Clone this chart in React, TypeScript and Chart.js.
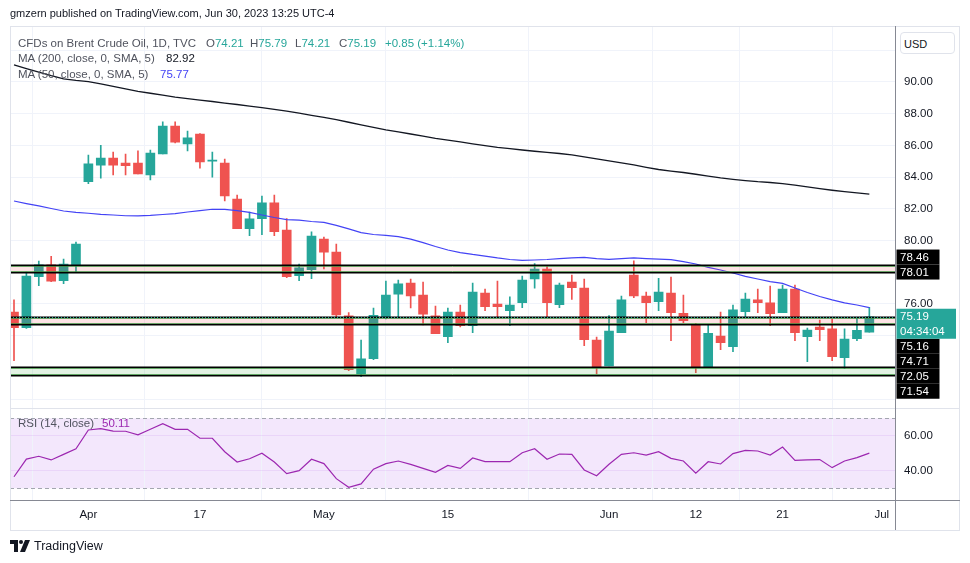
import React, { useEffect, useRef } from 'react';
import { Chart, registerables } from 'chart.js';

Chart.register(...registerables);

// ---------- data ----------
const xTickIdx = [6, 15, 25, 35, 48, 55, 62, 70];
const xTickLabels = ['Apr', '17', 'May', '15', 'Jun', '12', '21', 'Jul'];

const opens = [75.49, 74.5, 77.72, 78.46, 77.46, 78.46, 83.71, 84.76, 85.2, 84.89, 84.89, 84.13, 85.46, 87.22, 86.09, 86.72, 85.0, 84.89, 82.62, 80.74, 81.38, 82.37, 80.66, 77.78, 78.16, 80.09, 79.27, 75.25, 71.58, 72.54, 75.15, 76.62, 77.32, 76.56, 75.24, 73.93, 75.49, 74.62, 76.69, 75.99, 75.57, 76.08, 77.57, 78.2, 75.95, 77.38, 77.0, 73.72, 72.08, 74.18, 77.82, 76.5, 76.14, 76.69, 75.41, 74.71, 71.97, 73.97, 73.3, 75.51, 76.25, 76.06, 75.45, 76.94, 73.93, 74.54, 74.42, 72.6, 73.8, 74.21];
const highs = [76.25, 78.01, 78.7, 79.0, 78.83, 79.9, 85.39, 86.0, 85.58, 85.46, 85.65, 85.71, 87.48, 87.48, 86.9, 86.75, 85.58, 85.14, 82.87, 81.8, 82.81, 82.87, 81.38, 78.52, 80.54, 80.22, 79.78, 75.45, 73.72, 75.74, 77.44, 77.51, 77.57, 77.38, 75.87, 75.74, 75.93, 77.32, 76.94, 77.44, 76.44, 77.76, 78.54, 78.39, 77.32, 77.82, 77.57, 73.91, 75.26, 76.5, 78.71, 76.75, 77.62, 77.7, 76.56, 74.78, 74.67, 75.49, 75.93, 76.69, 76.94, 77.13, 77.19, 77.19, 74.48, 74.98, 75.05, 74.42, 75.13, 75.79];
const lows = [72.42, 74.45, 77.15, 77.4, 77.27, 77.97, 83.58, 83.94, 84.13, 84.13, 84.2, 83.82, 85.46, 86.15, 85.65, 84.57, 84.0, 82.49, 80.74, 80.3, 80.37, 80.3, 77.65, 77.46, 77.59, 78.2, 75.19, 71.79, 71.41, 72.48, 75.05, 75.17, 75.74, 74.67, 74.12, 73.55, 74.54, 74.18, 75.57, 75.19, 74.62, 75.76, 77.0, 75.13, 75.76, 76.28, 73.36, 71.58, 72.08, 74.18, 76.39, 74.82, 75.57, 73.68, 74.82, 71.66, 71.97, 73.11, 72.98, 75.19, 75.45, 74.62, 75.45, 73.68, 72.35, 73.68, 72.42, 71.91, 73.68, 74.21];
const closes = [74.5, 77.76, 78.46, 77.43, 78.52, 79.78, 84.83, 85.2, 84.76, 84.72, 84.2, 85.52, 87.22, 86.21, 86.47, 84.95, 85.08, 82.81, 80.74, 81.36, 82.37, 80.56, 77.72, 78.27, 80.28, 79.27, 75.3, 71.85, 72.54, 75.28, 76.56, 77.26, 76.5, 75.36, 74.12, 75.49, 74.62, 76.75, 75.82, 75.82, 75.93, 77.51, 78.2, 76.08, 77.19, 77.02, 73.74, 72.04, 74.29, 76.25, 76.5, 76.08, 76.75, 75.45, 74.94, 71.97, 74.14, 73.55, 75.62, 76.31, 76.08, 75.38, 76.94, 74.18, 74.35, 74.38, 72.67, 73.78, 74.34, 75.19];

const ma200 = [91.08, 90.85, 90.62, 90.4, 90.2, 90.1, 90.03, 89.88, 89.72, 89.56, 89.41, 89.29, 89.17, 89.05, 88.95, 88.86, 88.77, 88.67, 88.58, 88.48, 88.38, 88.27, 88.16, 88.03, 87.9, 87.77, 87.62, 87.46, 87.3, 87.14, 86.98, 86.85, 86.72, 86.58, 86.44, 86.33, 86.22, 86.1, 85.99, 85.88, 85.79, 85.71, 85.63, 85.56, 85.49, 85.4, 85.28, 85.15, 85.02, 84.9, 84.77, 84.62, 84.48, 84.38, 84.29, 84.18, 84.06, 83.95, 83.86, 83.78, 83.71, 83.66, 83.59, 83.49, 83.38, 83.27, 83.17, 83.08, 83.0, 82.92];
const ma50 = [82.49, 82.33, 82.18, 82.02, 81.86, 81.77, 81.72, 81.65, 81.61, 81.56, 81.55, 81.58, 81.64, 81.69, 81.8, 81.89, 81.97, 81.96, 81.89, 81.77, 81.61, 81.45, 81.32, 81.29, 81.2, 81.14, 80.95, 80.73, 80.5, 80.38, 80.32, 80.25, 80.09, 79.87, 79.62, 79.4, 79.24, 79.12, 79.02, 78.9, 78.8, 78.75, 78.77, 78.8, 78.86, 78.91, 78.93, 78.86, 78.81, 78.86, 78.9, 78.86, 78.83, 78.79, 78.67, 78.52, 78.3, 78.14, 77.95, 77.74, 77.57, 77.41, 77.29, 77.0, 76.72, 76.47, 76.25, 76.06, 75.93, 75.77];
const rsi = [36.6, 46.7, 48.3, 46.2, 49.4, 52.6, 63.3, 64.1, 62.7, 62.6, 60.6, 63.7, 66.9, 63.7, 63.7, 58.6, 58.6, 50.9, 45.0, 46.9, 50.0, 45.0, 38.4, 40.1, 46.6, 44.1, 35.5, 30.6, 32.5, 40.9, 44.1, 45.6, 43.7, 41.4, 39.1, 43.1, 41.4, 47.3, 45.2, 45.2, 45.2, 50.3, 52.6, 46.6, 49.6, 49.4, 40.5, 37.2, 43.7, 49.4, 50.3, 49.0, 50.9, 47.1, 45.6, 38.7, 45.2, 43.9, 49.8, 51.7, 51.3, 49.0, 53.6, 46.0, 46.2, 46.4, 41.8, 45.6, 47.5, 50.1];

const priceTicks = [70, 72, 74, 76, 78, 80, 82, 84, 86, 88, 90, 92];
const priceTicksShown = [76, 80, 82, 84, 86, 88, 90];
const rsiTicks = [40, 60];
const rsiUpper = 70;
const rsiLower = 30;

const bandHigh = [78.46, 75.16, 72.05];
const bandLow = [78.01, 74.71, 71.54];
const bandKind = ['red', 'red', 'green'];

const lastPrice = 75.19;
const countdown = '04:34:04';

// ---------- style ----------
const UP = '#26a69a';
const DOWN = '#ef5350';
const GRID = '#f0f3fa';
const FRAME = '#e0e3eb';
const AXIS = '#868993';
const TEXT = '#131722';
const LEG = '#50535e';
const FONT = '"Liberation Sans", Arial, sans-serif';
const MA50C = '#4343f5';
const RSIC = '#9c27b0';

const X_MIN = -0.3227;
const X_MAX = 71.07;
const P_MIN = 69.464;
const P_MAX = 93.533;
const R_MIN = 23.31;
const R_MAX = 76.17;

const panes = {
  id: 'panes',
  beforeDraw(chart: any) {
    const { ctx, chartArea } = chart;
    const r = chart.scales.rsi;
    ctx.save();
    ctx.fillStyle = '#ffffff';
    ctx.fillRect(0, 0, chart.width, chart.height);
    const t = r.getPixelForValue(rsiUpper);
    const b = r.getPixelForValue(rsiLower);
    ctx.fillStyle = 'rgba(155, 60, 230, 0.12)';
    ctx.fillRect(chartArea.left, t, chartArea.right - chartArea.left, b - t);
    ctx.restore();
  },
  beforeDatasetsDraw(chart: any) {
    const { ctx, chartArea } = chart;
    const r = chart.scales.rsi;
    ctx.save();
    ctx.strokeStyle = '#a3a6af';
    ctx.lineWidth = 1;
    ctx.setLineDash([4, 3]);
    [rsiUpper, rsiLower].forEach((v) => {
      const y = Math.round(r.getPixelForValue(v)) + 0.5;
      ctx.beginPath();
      ctx.moveTo(chartArea.left, y);
      ctx.lineTo(chartArea.right, y);
      ctx.stroke();
    });
    ctx.restore();
  },
  afterDatasetsDraw(chart: any) {
    const { ctx, chartArea } = chart;
    const ys = chart.scales.y;
    const L = chartArea.left;
    const R = chartArea.right;
    ctx.save();
    bandHigh.forEach((hi, k) => {
      const yt = Math.round(ys.getPixelForValue(hi));
      const yb = Math.round(ys.getPixelForValue(bandLow[k]));
      ctx.fillStyle = bandKind[k] === 'red' ? 'rgba(242, 54, 69, 0.14)' : 'rgba(76, 175, 80, 0.16)';
      ctx.fillRect(L, yt, R - L, yb - yt);
      ctx.strokeStyle = 'rgba(56, 142, 60, 0.75)';
      ctx.lineWidth = 1;
      ctx.beginPath();
      ctx.moveTo(L, yt + 1.5);
      ctx.lineTo(R, yt + 1.5);
      ctx.moveTo(L, yb - 0.5);
      ctx.lineTo(R, yb - 0.5);
      ctx.stroke();
      ctx.strokeStyle = '#000000';
      ctx.lineWidth = 1.5;
      ctx.beginPath();
      ctx.moveTo(L, yt + 0.25);
      ctx.lineTo(R, yt + 0.25);
      ctx.moveTo(L, yb + 0.75);
      ctx.lineTo(R, yb + 0.75);
      ctx.stroke();
    });
    // current price dotted line
    const yp = Math.round(ys.getPixelForValue(lastPrice)) + 0.5;
    ctx.strokeStyle = UP;
    ctx.lineWidth = 1;
    ctx.setLineDash([1, 2]);
    ctx.beginPath();
    ctx.moveTo(L, yp);
    ctx.lineTo(R, yp);
    ctx.stroke();
    ctx.restore();
  },
  afterDraw(chart: any) {
    const { ctx, chartArea } = chart;
    const ys = chart.scales.y;
    const frameR = chart.width - 10;
    const frameB = chartArea.bottom + 30;
    ctx.save();
    // frame
    ctx.strokeStyle = FRAME;
    ctx.lineWidth = 1;
    ctx.strokeRect(chartArea.left + 0.5, chartArea.top + 0.5, frameR - chartArea.left - 1, frameB - chartArea.top);
    // pane separator
    const sep = Math.round(ys.bottom) + 0.5;
    ctx.beginPath();
    ctx.moveTo(chartArea.left, sep);
    ctx.lineTo(frameR, sep);
    ctx.stroke();
    // axis lines
    ctx.strokeStyle = AXIS;
    ctx.beginPath();
    const ax = Math.round(chartArea.right) + 0.5;
    ctx.moveTo(ax, chartArea.top);
    ctx.lineTo(ax, frameB);
    const ay = Math.round(chartArea.bottom) + 0.5;
    ctx.moveTo(chartArea.left, ay);
    ctx.lineTo(frameR, ay);
    ctx.stroke();

    // price labels
    const bx = chartArea.right + 1.5;
    const h = 15;
    const anchorY = ys.getPixelForValue(lastPrice);
    const aTop = anchorY - 8;
    const aH = 30;
    const items = [...bandHigh, ...bandLow].map((v) => ({ v, y: ys.getPixelForValue(v), top: 0 }));
    const above = items.filter((it) => it.y < anchorY).sort((a, b) => b.y - a.y);
    const below = items.filter((it) => it.y >= anchorY).sort((a, b) => a.y - b.y);
    let lim = aTop;
    above.forEach((it) => {
      const bottom = Math.min(it.y + h / 2, lim);
      it.top = bottom - h;
      lim = it.top;
    });
    lim = aTop + aH;
    below.forEach((it) => {
      it.top = Math.max(it.y - h / 2, lim);
      lim = it.top + h;
    });
    ctx.font = `11.5px ${FONT}`;
    ctx.textBaseline = 'middle';
    ctx.textAlign = 'left';
    items.forEach((it) => {
      ctx.fillStyle = '#000000';
      ctx.fillRect(bx, it.top, 43, h);
      ctx.fillStyle = '#ffffff';
      ctx.fillText(it.v.toFixed(2), bx + 3.5, it.top + h / 2 + 0.5);
    });
    ctx.fillStyle = UP;
    ctx.fillRect(bx, aTop, 59.5, aH);
    ctx.fillStyle = '#ffffff';
    ctx.fillText(lastPrice.toFixed(2), bx + 3.5, aTop + 8);
    ctx.fillText(countdown, bx + 3.5, aTop + 23);
    ctx.restore();
  },
};

function App() {
  const ref = useRef<HTMLCanvasElement>(null);
  useEffect(() => {
    const canvas = ref.current;
    if (!canvas) return;
    const idx = opens.map((_, i) => i);
    const colors = idx.map((i) => (closes[i] >= opens[i] ? UP : DOWN));
    const tickFont = { family: FONT, size: 11.5 };
    const chart = new Chart(canvas, {
      type: 'bar',
      data: {
        datasets: [
          {
            type: 'line',
            label: 'MA 200',
            data: idx.map((i) => ({ x: i, y: ma200[i] })),
            xAxisID: 'x',
            yAxisID: 'y',
            borderColor: '#131722',
            borderWidth: 1.3,
            pointRadius: 0,
            order: 1,
          } as any,
          {
            type: 'line',
            label: 'MA 50',
            data: idx.map((i) => ({ x: i, y: ma50[i] })),
            xAxisID: 'x',
            yAxisID: 'y',
            borderColor: MA50C,
            borderWidth: 1.2,
            pointRadius: 0,
            order: 0,
          } as any,
          {
            type: 'bar',
            label: 'body',
            data: idx.map((i) => ({ x: i, y: [opens[i], closes[i]] })),
            xAxisID: 'x',
            yAxisID: 'y',
            backgroundColor: colors,
            borderWidth: 0,
            barThickness: 9,
            grouped: false,
            order: 2,
          } as any,
          {
            type: 'bar',
            label: 'wick',
            data: idx.map((i) => ({ x: i, y: [lows[i], highs[i]] })),
            xAxisID: 'x',
            yAxisID: 'y',
            backgroundColor: colors,
            borderWidth: 0,
            barThickness: 1,
            grouped: false,
            order: 3,
          } as any,
          {
            type: 'line',
            label: 'RSI',
            data: idx.map((i) => ({ x: i, y: rsi[i] })),
            xAxisID: 'x',
            yAxisID: 'rsi',
            borderColor: RSIC,
            borderWidth: 1.2,
            pointRadius: 0,
            order: 0,
          } as any,
        ],
      },
      options: {
        responsive: false,
        animation: false,
        events: [],
        layout: { padding: { left: 10, top: 26, right: 10, bottom: 33 } },
        plugins: { legend: { display: false }, tooltip: { enabled: false } },
        scales: {
          x: {
            type: 'linear',
            position: 'bottom',
            min: X_MIN,
            max: X_MAX,
            offset: false,
            grid: { color: GRID, drawTicks: false },
            border: { display: false },
            ticks: {
              autoSkip: false,
              maxRotation: 0,
              padding: 8,
              color: TEXT,
              font: tickFont,
              callback: (v: any) => {
                const k = xTickIdx.indexOf(Number(v));
                return k >= 0 ? xTickLabels[k] : '';
              },
            },
            afterBuildTicks: (s: any) => {
              s.ticks = xTickIdx.map((v) => ({ value: v }));
            },
            afterFit: (s: any) => {
              s.height = 30;
            },
          },
          y: {
            type: 'linear',
            position: 'right',
            stack: 'pane',
            stackWeight: 381.5,
            weight: 0,
            min: P_MIN,
            max: P_MAX,
            grid: { color: GRID, drawTicks: false },
            border: { display: false },
            ticks: {
              padding: 9,
              color: TEXT,
              font: tickFont,
              callback: (v: any) => (priceTicksShown.includes(Number(v)) ? Number(v).toFixed(2) : ''),
            },
            afterBuildTicks: (s: any) => {
              s.ticks = priceTicks.map((v) => ({ value: v }));
            },
            afterFit: (s: any) => {
              s.width = 65;
            },
          },
          rsi: {
            type: 'linear',
            position: 'right',
            stack: 'pane',
            stackWeight: 92.5,
            weight: 1,
            min: R_MIN,
            max: R_MAX,
            grid: { color: 'rgba(155, 60, 230, 0.10)', drawTicks: false },
            border: { display: false },
            ticks: {
              padding: 9,
              color: TEXT,
              font: tickFont,
              callback: (v: any) => Number(v).toFixed(2),
            },
            afterBuildTicks: (s: any) => {
              s.ticks = rsiTicks.map((v) => ({ value: v }));
            },
            afterFit: (s: any) => {
              s.width = 65;
            },
          },
        },
      } as any,
      plugins: [panes],
    });
    return () => chart.destroy();
  }, []);

  const abs = (left: number, top: number, extra: any = {}) => ({
    position: 'absolute' as const,
    left,
    top,
    lineHeight: '16px',
    fontFamily: FONT,
    fontSize: '11.5px',
    whiteSpace: 'nowrap' as const,
    ...extra,
  });

  return (
    <div style={{ position: 'absolute', left: 0, top: 0, width: 970, height: 563, background: '#fff', overflow: 'hidden' }}>
      <canvas ref={ref} width={970} height={563} style={{ position: 'absolute', left: 0, top: 0, width: 970, height: 563 }} />
      <div style={abs(10, 5, { color: TEXT, fontSize: '11px' })}>gmzern published on TradingView.com, Jun 30, 2023 13:25 UTC-4</div>

      <div style={abs(18, 35, { color: LEG })}>CFDs on Brent Crude Oil, 1D, TVC</div>
      <div style={abs(206, 35, { color: LEG })}>O<span style={{ color: UP }}>74.21</span></div>
      <div style={abs(250, 35, { color: LEG })}>H<span style={{ color: UP }}>75.79</span></div>
      <div style={abs(295, 35, { color: LEG })}>L<span style={{ color: UP }}>74.21</span></div>
      <div style={abs(339, 35, { color: LEG })}>C<span style={{ color: UP }}>75.19</span></div>
      <div style={abs(385, 35, { color: UP })}>+0.85 (+1.14%)</div>

      <div style={abs(18, 50, { color: LEG })}>MA (200, close, 0, SMA, 5)</div>
      <div style={abs(166, 50, { color: TEXT })}>82.92</div>
      <div style={abs(18, 66, { color: LEG })}>MA (50, close, 0, SMA, 5)</div>
      <div style={abs(160, 66, { color: MA50C })}>75.77</div>

      <div style={abs(18, 415, { color: LEG })}>RSI (14, close)</div>
      <div style={abs(102, 415, { color: RSIC })}>50.11</div>

      <div
        style={abs(900, 32, {
          width: 55,
          height: 22,
          lineHeight: '22px',
          boxSizing: 'border-box',
          border: `1px solid ${FRAME}`,
          borderRadius: 4,
          paddingLeft: 3,
          color: TEXT,
          fontSize: '11px',
          background: '#fff',
        })}
      >
        USD
      </div>

      <div style={{ position: 'absolute', left: 10, top: 538, display: 'flex', alignItems: 'center' }}>
        <svg width="21" height="12" viewBox="0 0 21 12">
          <path d="M0 0h8v12h-4v-8h-4z" fill={TEXT} />
          <circle cx="11" cy="2" r="2" fill={TEXT} />
          <path d="M15 0h5l-5 12h-5z" fill={TEXT} />
        </svg>
        <span style={{ marginLeft: 3, fontFamily: FONT, fontSize: '12.5px', color: TEXT, lineHeight: '16px' }}>TradingView</span>
      </div>
    </div>
  );
}

export default App;
